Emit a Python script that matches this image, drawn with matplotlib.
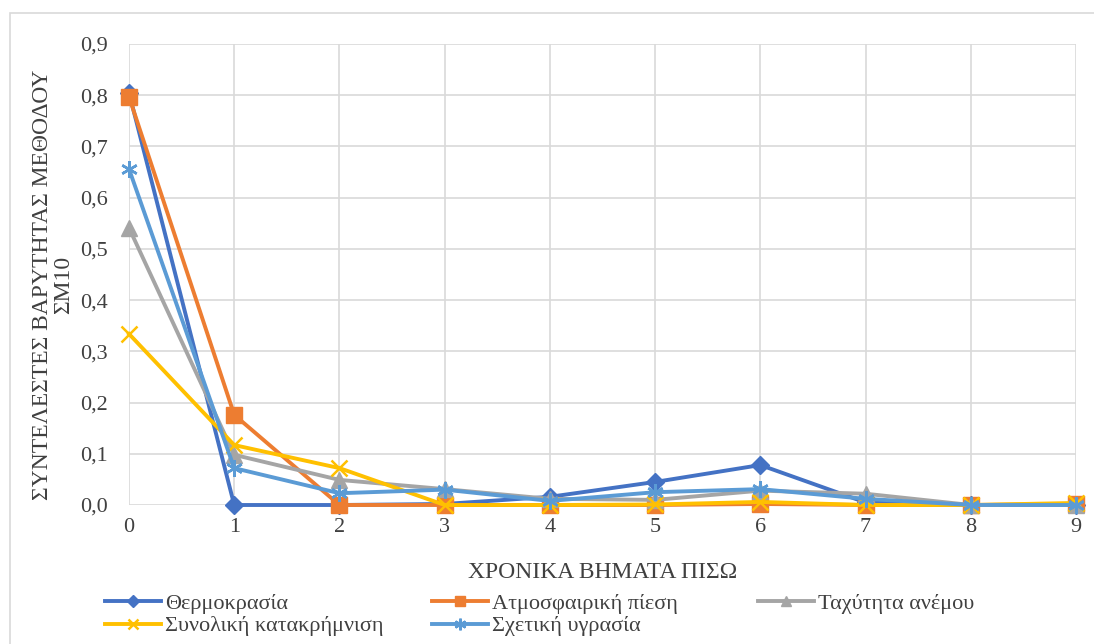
import numpy as np
import matplotlib
matplotlib.use("Agg")
from matplotlib import pyplot as plt
from matplotlib.patches import Rectangle

plt.rcParams['font.family'] = ['Liberation Serif', 'DejaVu Serif']

steps = [0, 1, 2, 3, 4, 5, 6, 7, 8, 9]
thermokrasia = [0.805, 0.0, 0.0, 0.002, 0.016, 0.045, 0.078, 0.005, 0.0, 0.0]
atm_piesi = [0.797, 0.176, 0.0, 0.0, 0.0, 0.0, 0.002, 0.0, 0.0, 0.002]
taxytita = [0.541, 0.098, 0.049, 0.031, 0.012, 0.010, 0.028, 0.022, 0.0, 0.0]
katakrimnisi = [0.334, 0.117, 0.072, 0.0, 0.0, 0.001, 0.006, 0.0, 0.0, 0.004]
ygrasia = [0.656, 0.072, 0.023, 0.030, 0.008, 0.025, 0.031, 0.012, 0.0, 0.0]

labels = ["Θερμοκρασία", "Ατμοσφαιρική πίεση", "Ταχύτητα ανέμου",
          "Συνολική κατακρήμνιση", "Σχετική υγρασία"]
y_ticks = [0.0, 0.1, 0.2, 0.3, 0.4, 0.5, 0.6, 0.7, 0.8, 0.9]

txt_col = "#404040"

fig = plt.figure(figsize=(10.94, 6.44), dpi=100)
# chart border
fig.patches.append(Rectangle((10 / 1094, -0.1), 1.2, 1 - 13 / 644 + 0.1, transform=fig.transFigure,
                             fill=False, edgecolor="#d9d9d9", linewidth=1.2))

ax = fig.add_axes([129 / 1094, 1 - 505 / 644, (1076 - 129) / 1094, (505 - 44) / 644])

series = [
    (thermokrasia, "#4472C4", "D", 9),
    (atm_piesi, "#ED7D31", "s", 11),
    (taxytita, "#A5A5A5", "^", 11),
    (katakrimnisi, "#FFC000", "x", 11),
    (ygrasia, "#5B9BD5", (6, 2, 0), 12),
]
handles = []
for (vals, col, mk, ms), lab in zip(series, labels):
    h, = ax.plot(steps, vals, color=col, lw=2.8, marker=mk, markersize=ms,
                 markeredgewidth=1.8 if mk == "x" or isinstance(mk, tuple) else 1,
                 markeredgecolor=col, label=lab, clip_on=False)
    handles.append(h)

ax.set_xlim(0, 9)
ax.set_ylim(0, 0.9)
ax.set_xticks(steps)
ax.set_yticks(y_ticks)
ax.set_yticklabels([f"{v:.1f}".replace(".", ",") for v in y_ticks])
ax.grid(True, color="#d9d9d9", linewidth=1.2)
ax.set_axisbelow(True)
for s in ax.spines.values():
    s.set_visible(False)
ax.tick_params(length=0, labelsize=16, colors=txt_col)
ax.tick_params(axis="y", pad=15)
ax.tick_params(axis="x", pad=9)

fig.text(603 / 1094, 1 - 572 / 644, "ΧΡΟΝΙΚΑ ΒΗΜΑΤΑ ΠΙΣΩ", ha="center", va="center",
         fontsize=17, color=txt_col)
fig.text(53 / 1094, 1 - 285 / 644, "ΣΥΝΤΕΛΕΣΤΕΣ ΒΑΡΥΤΗΤΑΣ ΜΕΘΟΔΟΥ\nΣΜ10", ha="center", va="center",
         rotation=90, fontsize=17, color=txt_col, linespacing=1.0, multialignment="center")

# legend: three columns placed like the original (row-wise order)
columns = [([0, 3], 105), ([1, 4], 432), ([2], 758)]
for idx, xpos in columns:
    leg = fig.legend([handles[i] for i in idx], [labels[i] for i in idx], loc="upper left",
                     bbox_to_anchor=(xpos / 1094, 1 - 593 / 644), frameon=False, fontsize=16,
                     handlelength=2.5, handletextpad=0.2, labelspacing=0.1,
                     borderaxespad=0, borderpad=0, markerscale=0.7)
    for t in leg.get_texts():
        t.set_color(txt_col)

fig.savefig("out.png", dpi=100)
